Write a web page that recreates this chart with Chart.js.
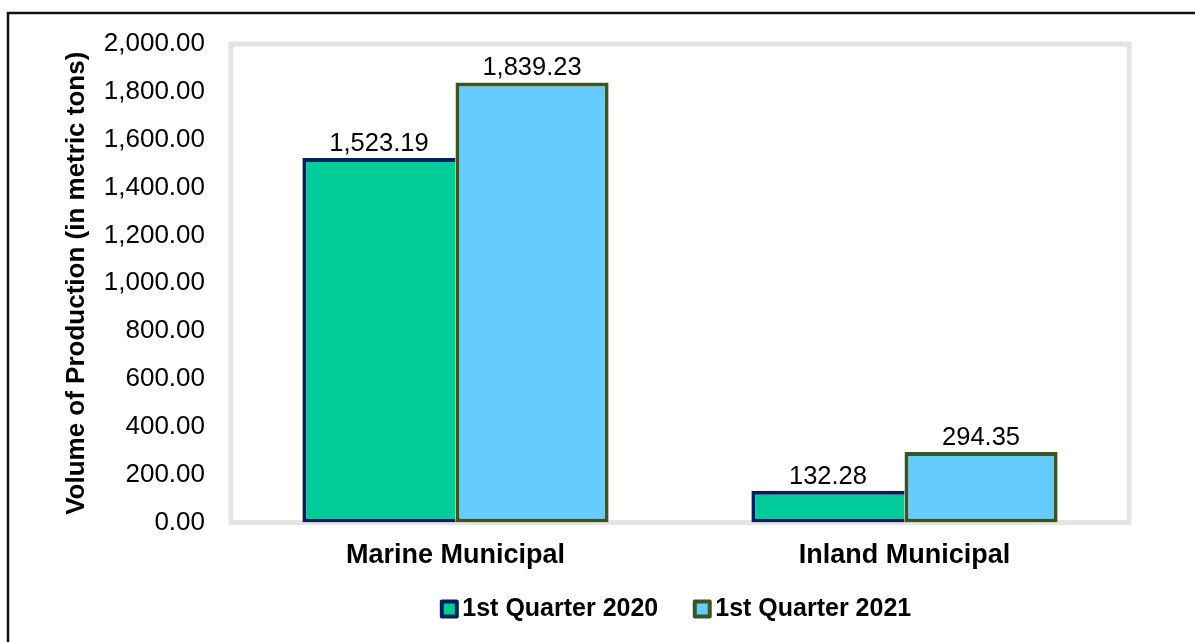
<!DOCTYPE html>
<html>
<head>
<meta charset="utf-8">
<title>Volume of Production</title>
<script src="https://cdn.jsdelivr.net/npm/chart.js@4.4.1/dist/chart.umd.min.js"></script>
<style>
  html, body { margin: 0; padding: 0; background: #ffffff; }
  #wrap { position: relative; width: 1195px; height: 642px; }
</style>
</head>
<body>
<div id="wrap"><canvas id="chart" width="1195" height="642"></canvas></div>
<script>
// Production by fishery type, first quarter comparison (metric tons)
const categories = ['Marine Municipal', 'Inland Municipal'];
const seriesLabels = ['1st Quarter 2020', '1st Quarter 2021'];
const q1Of2020 = [1523.19, 132.28];
const q1Of2021 = [1839.23, 294.35];
const yTickMin = 0;
const yTickMax = 2000;
const yTickStep = 200;
const yAxisTitle = 'Volume of Production (in metric tons)';

const FONT = "'Liberation Sans', Arial, Helvetica, sans-serif";
Chart.defaults.color = '#000000';
Chart.defaults.font.family = FONT;

const fmt = v => Number(v).toLocaleString('en-US', { minimumFractionDigits: 2, maximumFractionDigits: 2 });

// light grey frame around the plotting area, drawn under the bars
const plotFrame = {
  id: 'plotFrame',
  beforeDatasetsDraw(chart) {
    const { ctx, chartArea: a } = chart;
    ctx.save();
    ctx.strokeStyle = '#e4e4e4';
    ctx.lineWidth = 5;
    ctx.strokeRect(a.left, a.top, a.right - a.left, a.bottom - a.top);
    ctx.restore();
  }
};

// value labels sitting above each bar
const valueLabels = {
  id: 'valueLabels',
  afterDatasetsDraw(chart) {
    const { ctx } = chart;
    ctx.save();
    ctx.font = "25.5px " + FONT;
    ctx.fillStyle = '#000000';
    ctx.textAlign = 'center';
    ctx.textBaseline = 'alphabetic';
    chart.data.datasets.forEach((ds, di) => {
      const meta = chart.getDatasetMeta(di);
      meta.data.forEach((bar, i) => {
        ctx.fillText(fmt(ds.data[i]), bar.x, bar.y - 7);
      });
    });
    ctx.restore();
  }
};

// outer frame lines along the top and left edges of the figure
const outerFrame = {
  id: 'outerFrame',
  afterDraw(chart) {
    const { ctx, width, height } = chart;
    ctx.save();
    ctx.strokeStyle = '#111111';
    ctx.lineWidth = 2.5;
    ctx.beginPath();
    ctx.moveTo(8, height);
    ctx.lineTo(8, 13);
    ctx.lineTo(width, 13);
    ctx.stroke();
    ctx.restore();
  }
};

new Chart(document.getElementById('chart'), {
  type: 'bar',
  data: {
    labels: categories,
    datasets: [
      {
        label: seriesLabels[0],
        data: q1Of2020,
        backgroundColor: '#00cc99',
        borderColor: '#002060',
        borderWidth: 4,
        borderSkipped: 'right',
        categoryPercentage: 0.682,
        barPercentage: 1.0
      },
      {
        label: seriesLabels[1],
        data: q1Of2021,
        backgroundColor: '#66ccff',
        borderColor: '#385723',
        borderWidth: 4,
        borderSkipped: false,
        categoryPercentage: 0.682,
        barPercentage: 1.0
      }
    ]
  },
  options: {
    responsive: false,
    animation: false,
    devicePixelRatio: 1,
    layout: { padding: { top: 44, right: 66, bottom: 10.5, left: 0 } },
    plugins: {
      tooltip: { enabled: false },
      legend: {
        position: 'bottom',
        fullSize: false,
        labels: {
          usePointStyle: true,
          pointStyle: 'rect',
          boxWidth: 1,
          boxHeight: 15,
          padding: 43.5,
          color: '#000000',
          font: { size: 25, weight: 'bold', family: FONT },
          generateLabels(chart) {
            const items = Chart.defaults.plugins.legend.labels.generateLabels(chart);
            items.forEach(it => { it.lineWidth = 4; it.lineJoin = 'round'; it.pointStyle = 'rect'; });
            return items;
          }
        }
      }
    },
    scales: {
      x: {
        grid: { display: false, drawTicks: false },
        border: { display: false },
        ticks: {
          padding: 16.6,
          color: '#000000',
          font: { size: 27, weight: 'bold', family: FONT }
        },
        afterFit(scale) {
          // slim axis box; category names are allowed to run past it
          scale.height = 30.5;
          scale._computeLabelArea = () => null;
        }
      },
      y: {
        min: yTickMin,
        max: yTickMax,
        grid: { display: false, drawTicks: false },
        border: { display: false },
        ticks: {
          stepSize: yTickStep,
          padding: 26,
          color: '#000000',
          font: { size: 26, family: FONT },
          callback: v => fmt(v)
        },
        title: {
          display: true,
          text: yAxisTitle,
          color: '#000000',
          padding: { top: 61.4, bottom: 0 },
          font: { size: 26, weight: 'bold', family: FONT, lineHeight: 1.2 }
        },
        afterFit(scale) { scale.width = 231; }
      }
    }
  },
  plugins: [plotFrame, valueLabels, outerFrame]
});
</script>
</body>
</html>
